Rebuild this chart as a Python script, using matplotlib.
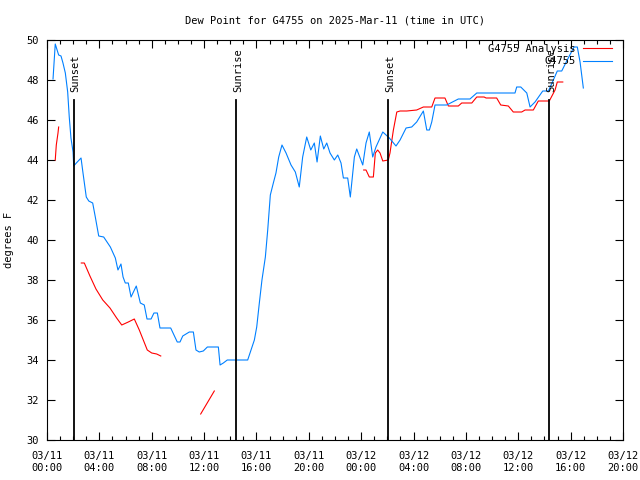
import numpy as np
import pandas as pd
import matplotlib
matplotlib.use("Agg")
import matplotlib.pyplot as plt
import matplotlib.dates as mdates

start = pd.Timestamp("2025-03-11 00:00")

# hours after 03/11 00:00 UTC, dew point in F
obs_hours = [0.46, 0.63, 0.89, 1.07, 1.22, 1.40, 1.58, 1.70, 1.83, 1.99, 2.04, 2.24, 2.60, 2.75,
             3.00, 3.19, 3.49, 3.69, 3.95, 4.33, 4.84, 5.22, 5.42, 5.65, 5.81, 5.98, 6.21, 6.42,
             6.82, 7.13, 7.43, 7.64, 7.95, 8.17, 8.43, 8.63, 9.45, 9.95, 10.16, 10.37, 10.87,
             11.18, 11.38, 11.63, 11.94, 12.25, 12.91, 13.09, 13.22, 13.47, 13.77, 15.33, 15.84,
             16.02, 16.22, 16.42, 16.68, 16.86, 17.06, 17.29, 17.49, 17.70, 17.95, 18.26, 18.64,
             18.97, 19.27, 19.53, 19.84, 20.15, 20.42, 20.63, 20.88, 21.14, 21.37, 21.62, 21.95,
             22.21, 22.46, 22.64, 22.97, 23.17, 23.48, 23.66, 24.12, 24.37, 24.62, 24.88, 25.13,
             25.65, 26.15, 26.66, 26.97, 27.43, 27.86, 28.24, 28.75, 29.01, 29.21, 29.39, 29.64,
             30.53, 31.42, 32.31, 32.83, 35.37, 35.75, 35.88, 36.19, 36.65, 36.90, 37.28, 37.87,
             38.30, 38.68, 38.98, 39.32, 39.70, 40.26, 40.51, 40.72, 40.97]
obs_dewpt = [48.05, 49.8, 49.25, 49.2, 48.85, 48.35, 47.4, 46.15, 45.1, 44.4, 43.7, 43.85, 44.1, 43.35,
             42.15, 41.95, 41.85, 41.15, 40.2, 40.15, 39.65, 39.1, 38.5, 38.8, 38.15, 37.85, 37.85, 37.15,
             37.7, 36.85, 36.75, 36.05, 36.05, 36.35, 36.35, 35.6, 35.6, 34.9, 34.9, 35.2, 35.4,
             35.4, 34.5, 34.4, 34.45, 34.65, 34.65, 34.65, 33.75, 33.85, 34.0, 34.0, 35.0,
             35.65, 36.85, 38.0, 39.15, 40.5, 42.25, 42.85, 43.35, 44.15, 44.75, 44.35, 43.75,
             43.4, 42.65, 44.15, 45.15, 44.5, 44.85, 43.9, 45.2, 44.55, 44.85, 44.35, 44.0,
             44.25, 43.85, 43.1, 43.1, 42.15, 44.15, 44.55, 43.75, 44.85, 45.4, 44.15, 44.65,
             45.4, 45.1, 44.7, 45.0, 45.6, 45.65, 45.9, 46.45, 45.5, 45.5, 45.9, 46.75,
             46.75, 47.05, 47.05, 47.35, 47.35, 47.35, 47.65, 47.65, 47.35, 46.65, 46.9, 47.45,
             47.45, 48.0, 48.45, 48.45, 48.95, 49.65, 49.65, 48.9, 47.6]

# analysis has gaps (nan)
ana_hours = [0.63, 0.71, 0.84, 0.89, 1.5,
             2.62, 2.85, 3.28, 3.74, 4.26, 4.81, 5.32, 5.71, 6.21, 6.67, 7.05, 7.66, 8.00, 8.38, 8.69, 10.0,
             11.74, 12.78, 18.0,
             24.19, 24.37, 24.62, 24.93, 25.08, 25.26, 25.44, 25.65, 26.07, 26.20, 26.46, 26.72, 26.97,
             27.48, 28.24, 28.75, 29.39, 29.64, 30.40, 30.66, 31.42, 31.68, 32.45, 32.83, 33.39, 33.54,
             34.35, 34.66, 35.24, 35.62, 36.26, 36.52, 37.15, 37.53, 38.37, 38.81, 38.98, 39.40]
ana_dewpt = [44.0, 44.75, 45.35, 45.65, np.nan,
             38.85, 38.85, 38.2, 37.55, 37.0, 36.6, 36.1, 35.75, 35.9, 36.05, 35.5, 34.5, 34.35, 34.3, 34.2, np.nan,
             31.3, 32.45, np.nan,
             43.5, 43.5, 43.15, 43.15, 44.35, 44.5, 44.35, 43.95, 44.0, 44.35, 45.5, 46.4, 46.45,
             46.45, 46.5, 46.65, 46.65, 47.1, 47.1, 46.7, 46.7, 46.85, 46.85, 47.15, 47.15, 47.1,
             47.1, 46.75, 46.7, 46.4, 46.4, 46.5, 46.5, 46.95, 46.95, 47.5, 47.9, 47.9]

sun_labels = ["Sunset", "Sunrise", "Sunset", "Sunrise"]
sun_hours = [2.06, 14.44, 26.05, 38.35]

font = "DejaVu Sans Mono"
fs = 7.5

fig = plt.figure(figsize=(6.4, 4.8), dpi=100)
ax = fig.add_axes([47 / 640, 40 / 480, 576 / 640, 400 / 480])

t_obs = start + pd.to_timedelta(obs_hours, unit="h")
t_ana = start + pd.to_timedelta(ana_hours, unit="h")

ax.plot(t_ana, ana_dewpt, color="#ff0000", lw=0.8, label="G4755 Analysis")
ax.plot(t_obs, obs_dewpt, color="#0080ff", lw=0.8, label="G4755")

for name, h in zip(sun_labels, sun_hours):
    t = start + pd.Timedelta(hours=h)
    ax.plot([t, t], [30, 47], color="black", lw=1.3)
    ax.text(t + pd.Timedelta(minutes=8), 47.4, name, rotation=90, ha="center", va="bottom",
            family=font, fontsize=fs)

ax.set_xlim(start, start + pd.Timedelta(hours=44))
ax.set_ylim(30, 50)
ax.set_yticks(np.arange(30, 51, 2))
ax.xaxis.set_major_locator(mdates.HourLocator(byhour=range(0, 24, 4)))
ax.xaxis.set_minor_locator(mdates.HourLocator())
ax.xaxis.set_major_formatter(mdates.DateFormatter("%m/%d\n%H:%M"))
ax.tick_params(which="both", direction="in", top=True, right=True, labelsize=fs)
ax.tick_params(axis="x", pad=8)
ax.tick_params(axis="y", pad=6)
ax.tick_params(which="major", length=6, width=0.8)
ax.tick_params(which="minor", length=3, width=0.8)
for lab in ax.get_xticklabels() + ax.get_yticklabels():
    lab.set_family(font)
for s in ax.spines.values():
    s.set_linewidth(0.8)

ax.set_ylabel("degrees F", family=font, fontsize=fs, labelpad=12)
ax.yaxis.set_label_coords(-0.058, 0.5)
ax.set_title("Dew Point for G4755 on 2025-Mar-11 (time in UTC)", family=font, fontsize=fs, pad=12)

leg = ax.legend(loc="upper right", bbox_to_anchor=(0.997, 1.014), frameon=False, markerfirst=False,
                handlelength=2.8, handletextpad=0.7, labelspacing=0.25,
                prop={"family": font, "size": fs})

fig.savefig("out.png", dpi=100)
